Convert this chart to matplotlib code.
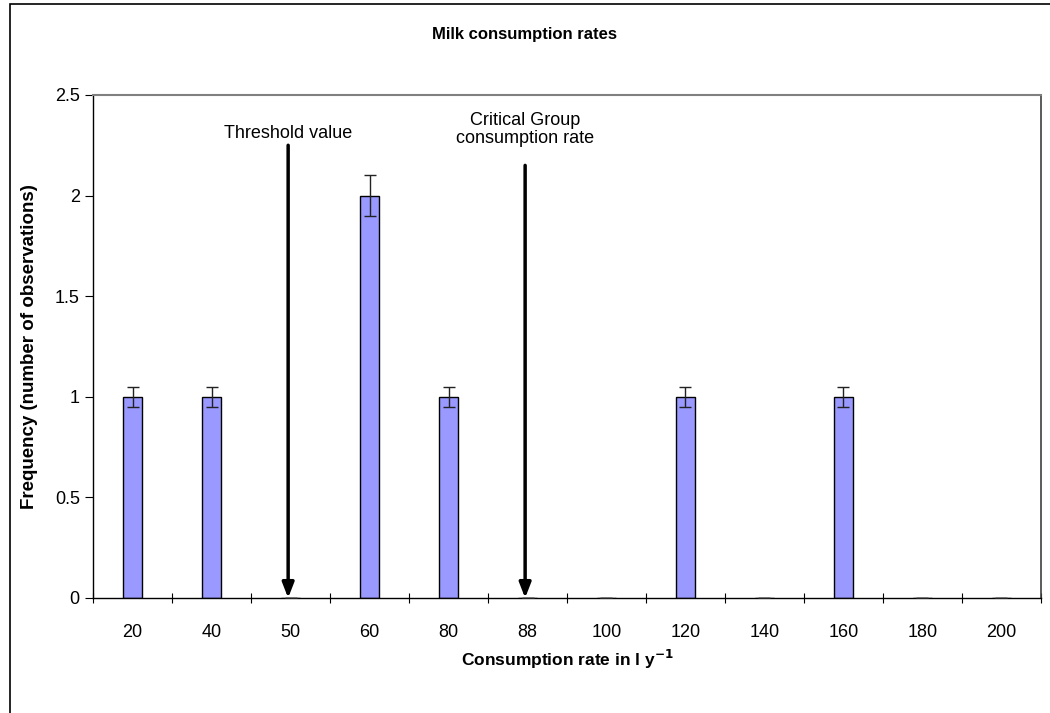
import numpy as np
import matplotlib.pyplot as plt
from matplotlib.patches import Rectangle

plt.rcParams['font.family'] = ['Liberation Sans', 'DejaVu Sans']

# data
categories = ["20", "40", "50", "60", "80", "88", "100", "120", "140", "160", "180", "200"]
frequency = [1, 1, 0, 2, 1, 0, 0, 1, 0, 1, 0, 0]
error = [0.05, 0.05, 0, 0.1, 0.05, 0, 0, 0.05, 0, 0.05, 0, 0]
# category, label, arrow top, label centre
markers = [("50", "Threshold value", 2.25, 2.31),
           ("88", "Critical Group\nconsumption rate", 2.15, 2.33)]

fig = plt.figure(figsize=(10.5, 7.13), dpi=100)
ax = fig.add_axes([0.0886, 0.1613, 0.9028, 0.7055])

x = np.arange(len(categories))
ax.bar(x, frequency, width=0.23, color="#9999FF", edgecolor="black", linewidth=1.0, zorder=2)
ax.errorbar(x, frequency, yerr=error, fmt="none", ecolor="#222222", elinewidth=1.0,
            capsize=4, capthick=1.0, zorder=3)

# arrows for threshold / critical group
for cat, label, top, ytxt in markers:
    i = categories.index(cat)
    ax.annotate("", xy=(i - 0.03, 0), xytext=(i - 0.03, top),
                arrowprops=dict(arrowstyle="-|>,head_width=0.35,head_length=0.9",
                                color="black", lw=2.5, shrinkA=0, shrinkB=0), zorder=4)
    ax.text(i - 0.03, ytxt, label, ha="center", va="center", fontsize=13,
            linespacing=1.05)

ax.set_xlim(-0.5, len(categories) - 0.5)
ax.set_ylim(0, 2.5)
ax.set_yticks([0, 0.5, 1, 1.5, 2, 2.5])
ax.set_yticklabels(["0", "0.5", "1", "1.5", "2", "2.5"], fontsize=13)
ax.set_xticks(x)
ax.set_xticklabels(categories, fontsize=13)
ax.tick_params(axis="x", length=0, pad=19)
ax.set_xticks(np.arange(-0.5, len(categories), 1), minor=True)
ax.tick_params(axis="x", which="minor", length=7, direction="inout", width=0.8)
ax.tick_params(axis="y", length=6, direction="out", width=0.8)

for s in ["left", "bottom"]:
    ax.spines[s].set_color("black")
    ax.spines[s].set_linewidth(1.0)
ax.spines["top"].set_color("#808080")
ax.spines["top"].set_linewidth(1.5)
ax.spines["right"].set_color("#404040")
ax.spines["right"].set_linewidth(1.2)

ax.set_xlabel("Consumption rate in l y$^{\\mathbf{-1}}$", fontsize=12.5, fontweight="bold", labelpad=5)
ax.set_ylabel("Frequency (number of observations)", fontsize=13.5, fontweight="bold", labelpad=12)
fig.text(0.5, 0.951, "Milk consumption rates", ha="center", va="center",
         fontsize=12, fontweight="bold")

# chart area border
fig.patches.append(Rectangle((10 / 1050, -0.01), 1.05, 1 - 4 / 713 + 0.01,
                             transform=fig.transFigure, fill=False,
                             edgecolor="black", linewidth=1.2))

fig.savefig("out.png", dpi=100)
